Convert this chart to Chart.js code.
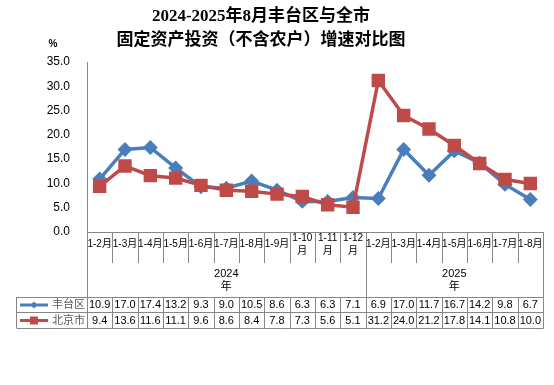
<!DOCTYPE html>
<html>
<head>
<meta charset="utf-8">
<script src="https://cdn.jsdelivr.net/npm/chart.js@4"></script>
<style>
  html, body { margin: 0; padding: 0; background: #fff; }
  canvas { display: block; }
</style>
</head>
<body>
<canvas id="c" width="554" height="385"></canvas>
<script>
const months = ['1-2月','1-3月','1-4月','1-5月','1-6月','1-7月','1-8月','1-9月','1-10月','1-11月','1-12月',
                '1-2月','1-3月','1-4月','1-5月','1-6月','1-7月','1-8月'];
const years = [{ label: '2024', from: 0, to: 10 }, { label: '2025', from: 11, to: 17 }];
const fengtai = [10.9,17.0,17.4,13.2,9.3,9.0,10.5,8.6,6.3,6.3,7.1,6.9,17.0,11.7,16.7,14.2,9.8,6.7];
const beijing = [9.4,13.6,11.6,11.1,9.6,8.6,8.4,7.8,7.3,5.6,5.1,31.2,24.0,21.2,17.8,14.1,10.8,10.0];
const yTicks = [0, 5, 10, 15, 20, 25, 30, 35];

const BLUE = '#4A7EBB', RED = '#BE4B48', AXIS = '#868686';
const SANS = '"Liberation Sans", "Noto Sans CJK SC", sans-serif';

const tablePlugin = {
  id: 'tablePlugin',
  afterDraw(chart) {
    const ctx = chart.ctx;
    const x = chart.scales.x;
    const area = chart.chartArea;
    const n = months.length;
    const w = (x.right - x.left) / n;
    const edge = i => x.left + i * w;
    const rowTop = [297, 312, 328];
    const tableLeft = 17;

    ctx.save();
    // title
    ctx.fillStyle = '#000';
    ctx.textAlign = 'center';
    ctx.textBaseline = 'middle';
    ctx.font = 'bold 17px "Liberation Serif", "Noto Sans CJK SC", serif';
    ctx.fillText('2024-2025年8月丰台区与全市', 261, 17);
    ctx.fillText('固定资产投资（不含农户）增速对比图', 261, 41);
    ctx.font = 'bold 10px ' + SANS;
    ctx.fillText('%', 53, 44);

    // separators under axis
    ctx.strokeStyle = AXIS;
    ctx.lineWidth = 1;
    const yearEdges = [0, 11, 18];
    for (let i = 0; i <= n; i++) {
      const px = Math.round(edge(i)) + 0.5;
      ctx.beginPath();
      ctx.moveTo(px, area.bottom);
      ctx.lineTo(px, yearEdges.includes(i) ? rowTop[0] : 263);
      ctx.stroke();
    }

    // month labels
    ctx.fillStyle = '#000';
    ctx.font = '10px ' + SANS;
    months.forEach((m, i) => {
      const cx = x.getPixelForValue(i);
      if (m.length > 4) {
        ctx.fillText(m.slice(0, -1), cx, 238);
        ctx.fillText('月', cx, 251);
      } else {
        ctx.fillText(m, cx, 244);
      }
    });

    // year labels
    ctx.font = '11px ' + SANS;
    years.forEach(yr => {
      const cx = (edge(yr.from) + edge(yr.to + 1)) / 2;
      ctx.fillText(yr.label, cx, 274);
      ctx.fillText('年', cx, 287);
    });

    // table grid
    ctx.strokeStyle = AXIS;
    rowTop.forEach(ty => {
      ctx.beginPath();
      ctx.moveTo(tableLeft, ty + 0.5);
      ctx.lineTo(Math.round(edge(n)) + 0.5, ty + 0.5);
      ctx.stroke();
    });
    [tableLeft - 0.5].concat(Array.from({ length: n + 1 }, (_, i) => Math.round(edge(i)) + 0.5)).forEach(px => {
      ctx.beginPath();
      ctx.moveTo(px, rowTop[0]);
      ctx.lineTo(px, rowTop[2] + 0.5);
      ctx.stroke();
    });

    // legend + values
    const rows = [
      { name: '丰台区', color: BLUE, data: fengtai, marker: 'diamond' },
      { name: '北京市', color: RED, data: beijing, marker: 'square' }
    ];
    rows.forEach((r, k) => {
      const cy = (rowTop[k] + rowTop[k + 1]) / 2 + 0.5;
      ctx.strokeStyle = r.color;
      ctx.fillStyle = r.color;
      ctx.lineWidth = 3;
      ctx.beginPath();
      ctx.moveTo(20, cy);
      ctx.lineTo(48, cy);
      ctx.stroke();
      ctx.beginPath();
      if (r.marker === 'diamond') {
        ctx.moveTo(34, cy - 3.5); ctx.lineTo(37.5, cy); ctx.lineTo(34, cy + 3.5); ctx.lineTo(30.5, cy);
        ctx.closePath();
      } else {
        ctx.rect(30, cy - 4, 8, 8);
      }
      ctx.fill();

      ctx.fillStyle = '#595959';
      ctx.font = '11px ' + SANS;
      ctx.textAlign = 'left';
      ctx.fillText(r.name, 52, cy);

      ctx.fillStyle = '#000';
      ctx.textAlign = 'center';
      r.data.forEach((v, i) => ctx.fillText(v.toFixed(1), x.getPixelForValue(i), cy));
    });
    ctx.restore();
  }
};

new Chart(document.getElementById('c'), {
  type: 'line',
  data: {
    labels: months,
    datasets: [
      {
        label: '丰台区', data: fengtai, order: 1,
        borderColor: BLUE, backgroundColor: BLUE, borderWidth: 3.5,
        pointStyle: 'rectRot', pointRadius: 5, pointHoverRadius: 5, tension: 0
      },
      {
        label: '北京市', data: beijing, order: 0,
        borderColor: RED, backgroundColor: RED, borderWidth: 3.5,
        pointStyle: 'rect', pointRadius: 7, pointHoverRadius: 7, tension: 0
      }
    ]
  },
  options: {
    responsive: false,
    animation: false,
    layout: { padding: { left: 0, right: 11, top: 62, bottom: 0 } },
    plugins: { legend: { display: false }, tooltip: { enabled: false }, title: { display: false } },
    scales: {
      x: {
        offset: true,
        grid: { display: false },
        ticks: { display: false },
        border: { display: true, color: AXIS },
        afterFit: s => { s.height = 153; }
      },
      y: {
        min: 0, max: 35,
        afterBuildTicks: s => { s.ticks = yTicks.map(v => ({ value: v })); },
        ticks: { callback: v => v.toFixed(1), color: '#000', font: { size: 12, family: SANS }, padding: 9 },
        grid: { display: false },
        border: { display: true, color: AXIS },
        afterFit: s => { s.width = 87; }
      }
    }
  },
  plugins: [tablePlugin]
});
</script>
</body>
</html>
